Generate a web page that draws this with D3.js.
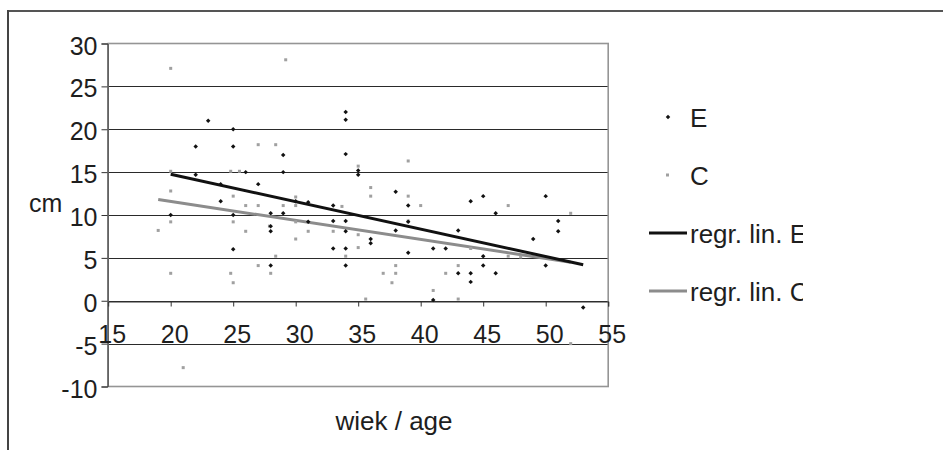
<!DOCTYPE html>
<html>
<head>
<meta charset="utf-8">
<script src="https://cdn.jsdelivr.net/npm/d3@7"></script>
<style>
body { margin: 0; background: #fff; }
text { font-family: "Liberation Sans", Arial, sans-serif; fill: #1e1e1e; }
</style>
</head>
<body>
<svg width="943" height="450"></svg>
<script>
// axis ticks
const xTicks = [15, 20, 25, 30, 35, 40, 45, 50, 55];
const yTicks = [-10, -5, 0, 5, 10, 15, 20, 25, 30];

// series E: [age, cm]
const seriesE = [
    [20, 10], [22, 18], [22, 14.7], [23, 21], [24, 13.6], [24, 11.6],
    [25, 20], [25, 18], [25, 10], [25, 6], [26, 15], [27, 13.6],
    [28, 10.2], [28, 8.7], [28, 8.1], [28, 4.1], [29, 17], [29, 15],
    [29, 10.2], [30, 11.6], [31, 11.5], [31, 9.2], [33, 11.1], [33, 9.3],
    [33, 6.1], [34, 22], [34, 21.1], [34, 17.1], [34, 9.3], [34, 8.1],
    [34, 6.1], [34, 4.1], [35, 15.2], [35, 14.7], [36, 7.2], [36, 6.7],
    [38, 12.7], [38, 8.2], [39, 11.1], [39, 9.2], [39, 5.6], [41, 6.1],
    [41, 0.1], [42, 6.1], [43, 8.2], [43, 3.2], [44, 11.6], [44, 3.2],
    [44, 2.2], [45, 12.2], [45, 5.2], [45, 4.1], [46, 10.2], [46, 3.2],
    [49, 7.2], [50, 12.2], [50, 4.1], [51, 9.3], [51, 8.1], [53, -0.8]
];

// series C: [age, cm]
const seriesC = [
    [20, 27.1], [29.2, 28.1], [27, 18.2], [28.4, 18.2], [20, 15.1], [24.8, 15.1],
    [25.5, 15.1], [35, 15.7], [39, 16.3], [20, 12.8], [25, 12.2], [26, 11.1],
    [27, 11.1], [29, 11.1], [30, 12.1], [30, 11.1], [33.7, 11], [36, 13.2],
    [36, 12.2], [39, 12.2], [40, 11.1], [47, 11.1], [52, 10.2], [20, 9.2],
    [19, 8.2], [25, 9.2], [26, 8.1], [27.9, 8.7], [30, 9.2], [30, 7.2],
    [31, 8.1], [33, 8.1], [35, 7.7], [39, 9.3], [28.4, 5.2], [34, 5.2],
    [35, 6.2], [44, 6.1], [47, 5.2], [48, 5.1], [20, 3.2], [24.8, 3.2],
    [25, 2.1], [27, 4.1], [28, 3.2], [37, 3.2], [38, 4.1], [38, 3.2],
    [37.7, 2.1], [35.6, 0.2], [41, 1.2], [42, 3.2], [43, 4.1], [43, 0.2],
    [21, -7.8], [52, -5]
];

// linear regression lines (end points)
const regrE = [[20, 14.75], [53, 4.2]];
const regrC = [[19, 11.8], [52, 4.5]];

const legendNames = ["E", "C", "regr. lin. E", "regr. lin. C"];

const svg = d3.select('svg');

const x = d3.scaleLinear().domain([15, 55]).range([108.2, 608.2]);
const y = d3.scaleLinear().domain([-10, 30]).range([386.5, 43.5]);
const py = v => Math.round(y(v)) + 0.5;

// outer frame
svg.append('line')
    .attr('x1', 7).attr('x2', 943).attr('y1', 11).attr('y2', 11)
    .attr('stroke', '#555').attr('stroke-width', 2);
svg.append('line')
    .attr('x1', 8).attr('x2', 8).attr('y1', 10).attr('y2', 450)
    .attr('stroke', '#444').attr('stroke-width', 2);

// gridlines
svg.append('g')
    .selectAll('line')
    .data(yTicks.filter(d => d > -10 && d < 30))
    .enter()
    .append('line')
    .attr('x1', x(15)).attr('x2', x(55))
    .attr('y1', d => py(d)).attr('y2', d => py(d))
    .attr('stroke', '#2a2a2a').attr('stroke-width', 1);

// plot area border
svg.append('rect')
    .attr('x', x(15)).attr('y', y(30))
    .attr('width', x(55) - x(15)).attr('height', y(-10) - y(30))
    .attr('fill', 'none').attr('stroke', '#959595').attr('stroke-width', 1.6);

// y axis
const yAxis = svg.append('g')
    .attr('transform', 'translate(' + (Math.round(x(15)) - 0.5) + ',0)')
    .call(d3.axisLeft(y).tickValues(yTicks).tickSize(6).tickFormat(d => String(d)));
yAxis.select('.domain').attr('stroke', '#333');
yAxis.selectAll('.tick line').attr('stroke', '#333');
yAxis.selectAll('.tick text')
    .attr('font-size', 25).attr('x', -10).attr('dy', null).attr('y', 10.5)
    .attr('font-family', null);

// x axis on y = 0
const xAxis = svg.append('g')
    .attr('transform', 'translate(0,' + py(0) + ')')
    .call(d3.axisBottom(x).tickValues(xTicks).tickSize(5).tickFormat(d => String(d)));
xAxis.select('.domain').attr('stroke', '#333');
xAxis.selectAll('.tick line').attr('stroke', '#333').attr('stroke-opacity', d => d === 15 ? 0 : 1);
xAxis.selectAll('.tick text')
    .attr('font-size', 25).attr('y', 41).attr('dy', null).attr('x', 3.5)
    .attr('font-family', null);

// axis titles
svg.append('text').attr('x', 29).attr('y', 212).attr('font-size', 25).text('cm');
svg.append('text').attr('x', 394).attr('y', 430).attr('font-size', 26)
    .attr('text-anchor', 'middle').text('wiek / age');

// regression lines
const line = d3.line().x(d => x(d[0])).y(d => y(d[1]));
svg.append('path').datum(regrC).attr('d', line)
    .attr('fill', 'none').attr('stroke', '#8c8c8c').attr('stroke-width', 3);
svg.append('path').datum(regrE).attr('d', line)
    .attr('fill', 'none').attr('stroke', '#111').attr('stroke-width', 3);

// points
const sq = d3.symbol(d3.symbolSquare, 10);
svg.append('g')
    .selectAll('rect')
    .data(seriesC)
    .enter()
    .append('rect')
    .attr('x', d => x(d[0]) - 1.5).attr('y', d => y(d[1]) - 1.5)
    .attr('width', 3).attr('height', 3)
    .attr('fill', '#a0a0a0');
svg.append('g')
    .selectAll('path')
    .data(seriesE)
    .enter()
    .append('path')
    .attr('d', sq)
    .attr('transform', d => 'translate(' + x(d[0]) + ',' + y(d[1]) + ') rotate(45)')
    .attr('fill', '#111');

// legend, clipped on the right
svg.append('clipPath').attr('id', 'legclip')
    .append('rect').attr('x', 630).attr('y', 80).attr('width', 173).attr('height', 250);
const legend = svg.append('g').attr('clip-path', 'url(#legclip)');
const legY = d3.scalePoint().domain(legendNames).range([117, 291]);

legend.append('path').attr('d', sq)
    .attr('transform', 'translate(668,' + legY('E') + ') rotate(45)').attr('fill', '#111');
legend.append('rect')
    .attr('x', 666).attr('y', legY('C') - 1.5).attr('width', 3).attr('height', 3)
    .attr('fill', '#a0a0a0');
legend.append('line')
    .attr('x1', 649).attr('x2', 687).attr('y1', legY('regr. lin. E')).attr('y2', legY('regr. lin. E'))
    .attr('stroke', '#111').attr('stroke-width', 3);
legend.append('line')
    .attr('x1', 649).attr('x2', 687).attr('y1', legY('regr. lin. C')).attr('y2', legY('regr. lin. C'))
    .attr('stroke', '#8c8c8c').attr('stroke-width', 3);

legend.selectAll('.legtext')
    .data(legendNames)
    .enter()
    .append('text')
    .classed('legtext', true)
    .attr('x', 690)
    .attr('y', d => legY(d) + 9.5)
    .attr('font-size', 26)
    .text(d => d);
</script>
</body>
</html>
